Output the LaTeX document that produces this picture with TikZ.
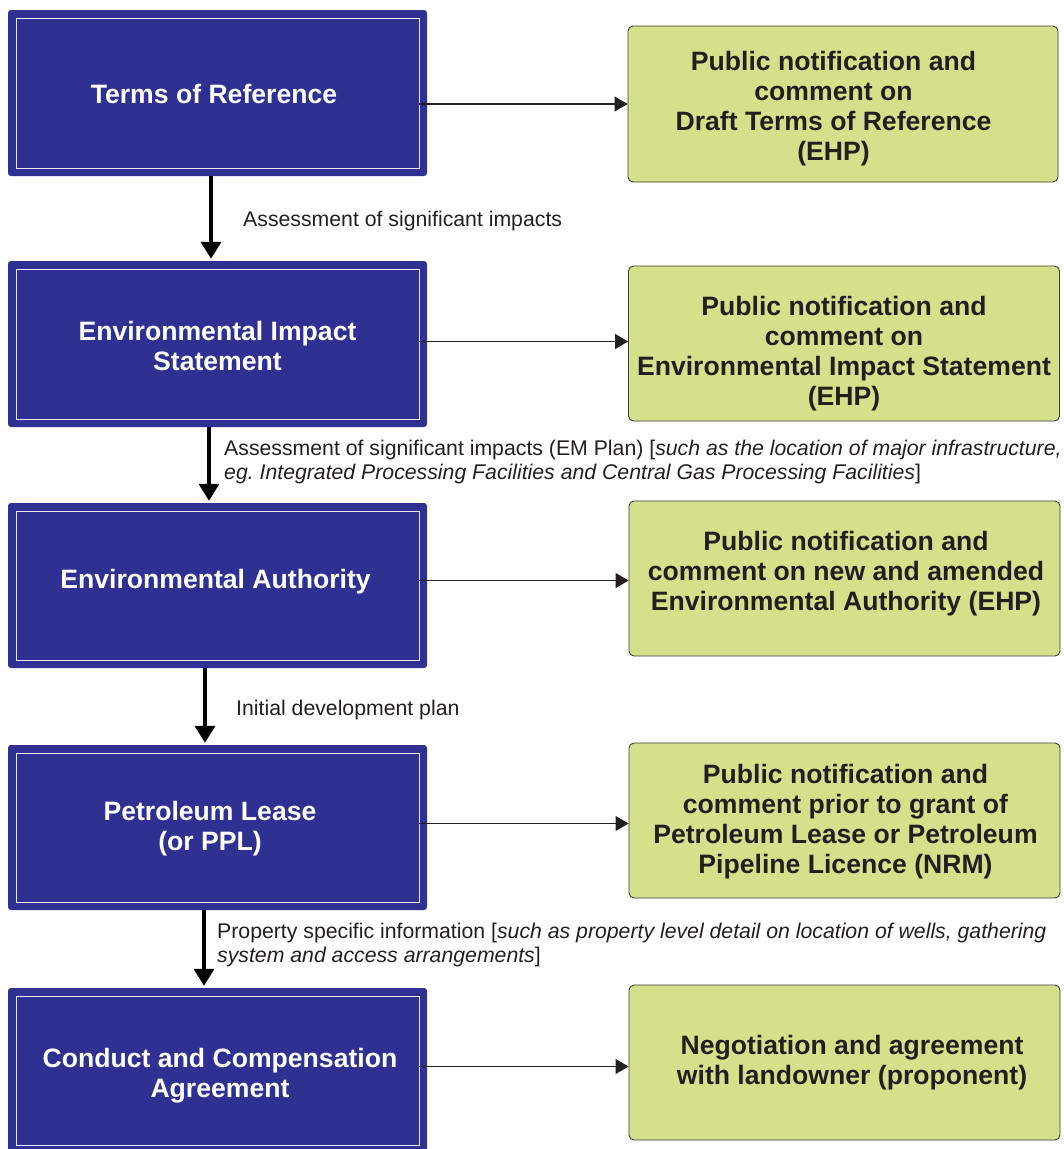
\documentclass[tikz,border=0pt]{standalone}
\usepackage{fontspec}
\setmainfont{Liberation Sans}
\usetikzlibrary{arrows.meta}
\definecolor{boxblue}{HTML}{2E3192}
\definecolor{boxgreen}{HTML}{D4E18A}
\definecolor{ink}{HTML}{231F20}
\definecolor{gborder}{HTML}{3C3C3C}
\begin{document}
\begin{tikzpicture}[x=1pt,y=-1pt,
  bluebox/.style={fill=boxblue, rounded corners=3pt, minimum width=419pt, minimum height=166pt,
    inner sep=0pt,
    path picture={\draw[white!90!boxblue,line width=0.9pt,sharp corners]
      ([shift={(8pt,-8pt)}]path picture bounding box.north west) rectangle
      ([shift={(-8pt,8pt)}]path picture bounding box.south east);}},
  bluetext/.style={text=white, font=\fontsize{26.6}{30}\selectfont\bfseries, align=center, inner sep=0pt},
  greenbox/.style={fill=boxgreen, draw=gborder, line width=0.9pt, rounded corners=5pt,
    minimum width=431pt, minimum height=155pt, inner sep=0pt},
  greentext/.style={text=ink, font=\fontsize{26.6}{30}\selectfont\bfseries, align=center, inner sep=0pt},
  lbl/.style={text=ink, font=\fontsize{21.25}{24}\selectfont\frenchspacing, align=left, inner sep=0pt, anchor=west},
  harrow/.style={draw=ink, line width=1.1pt, shorten <=-8pt, -{Triangle[length=13pt,width=15pt]}},
  varrow/.style={draw=black, line width=3.6pt, shorten >=2pt, -{Triangle[length=17pt,width=20pt]}}]
\useasboundingbox (0,0) rectangle (1064,1149);

% left column
\node[bluebox] (b1) at (217.5,93) {};
\node[bluebox] (b2) at (217.5,344) {};
\node[bluebox, minimum height=165pt] (b3) at (217.5,585.5) {};
\node[bluebox, minimum height=165pt] (b4) at (217.5,827.5) {};
\node[bluebox, minimum height=165pt] (b5) at (217.5,1070.5) {};
\node[bluetext] (b1t) at (214,94) {Terms of Reference};
\node[bluetext] (b2t) at (217.5,346) {Environmental Impact\\Statement};
\node[bluetext] (b3t) at (215.5,581.5) {Environmental Authority};
\node[bluetext] (b4t) at (210,828.5) {Petroleum Lease\\(or PPL)};
\node[bluetext] (b5t) at (220,1075.5) {Conduct and Compensation\\Agreement};

% right column
\node[greenbox, minimum width=430pt, minimum height=156pt] (g1) at (843,104) {};
\node[greenbox] (g2) at (844,343.5) {};
\node[greenbox] (g3) at (844.5,578.5) {};
\node[greenbox] (g4) at (844.5,820.5) {};
\node[greenbox] (g5) at (844.5,1062.5) {};
\node[greentext] (g1t) at (833.5,108.5)
  {Public notification and\\comment on\\Draft Terms of Reference\\(EHP)};
\node[greentext] (g2t) at (844,353.5)
  {Public notification and\\comment on\\Environmental Impact Statement\\(EHP)};
\node[greentext] (g3t) at (846,573.5)
  {Public notification and\\comment on new and amended\\Environmental Authority (EHP)};
\node[greentext] (g4t) at (845.5,822)
  {Public notification and\\comment prior to grant of\\Petroleum Lease or Petroleum\\Pipeline Licence (NRM)};
\node[greentext] (g5t) at (852,1062.5)
  {Negotiation and agreement\\with landowner (proponent)};

% horizontal connectors
\coordinate (h1) at (g1.west);
\coordinate (h2) at ([yshift=2pt]g2.west);
\coordinate (h3) at ([yshift=-2pt]g3.west);
\coordinate (h4) at ([yshift=-3pt]g4.west);
\coordinate (h5) at ([yshift=-4pt]g5.west);
\draw[harrow] (b1.east |- h1) -- (h1);
\draw[harrow] (b2.east |- h2) -- (h2);
\draw[harrow] (b3.east |- h3) -- (h3);
\draw[harrow] (b4.east |- h4) -- (h4);
\draw[harrow] (b5.east |- h5) -- (h5);

% vertical connectors
\draw[varrow] ([xshift=-6.5pt]b1.south) -- ([xshift=-6.5pt]b2.north);
\draw[varrow] ([xshift=-8.5pt]b2.south) -- ([xshift=-8.5pt]b3.north);
\draw[varrow] ([xshift=-12.5pt]b3.south) -- ([xshift=-12.5pt]b4.north);
\draw[varrow] ([xshift=-13.5pt]b4.south) -- ([xshift=-13.5pt]b5.north);

% labels
\node[lbl] (l1) at (243,221) {Assessment of significant impacts};
\node[lbl] (l2) at (224,462) {Assessment of significant impacts (EM Plan) [\textit{such as the location of major infrastructure,}\\\textit{eg.\ Integrated Processing Facilities and Central Gas Processing Facilities}]};
\node[lbl] (l3) at (236,710) {Initial development plan};
\node[lbl] (l4) at (217,945) {Property specific information [\textit{such as property level detail on location of wells, gathering}\\\textit{system and access arrangements}]};
\end{tikzpicture}
\end{document}
